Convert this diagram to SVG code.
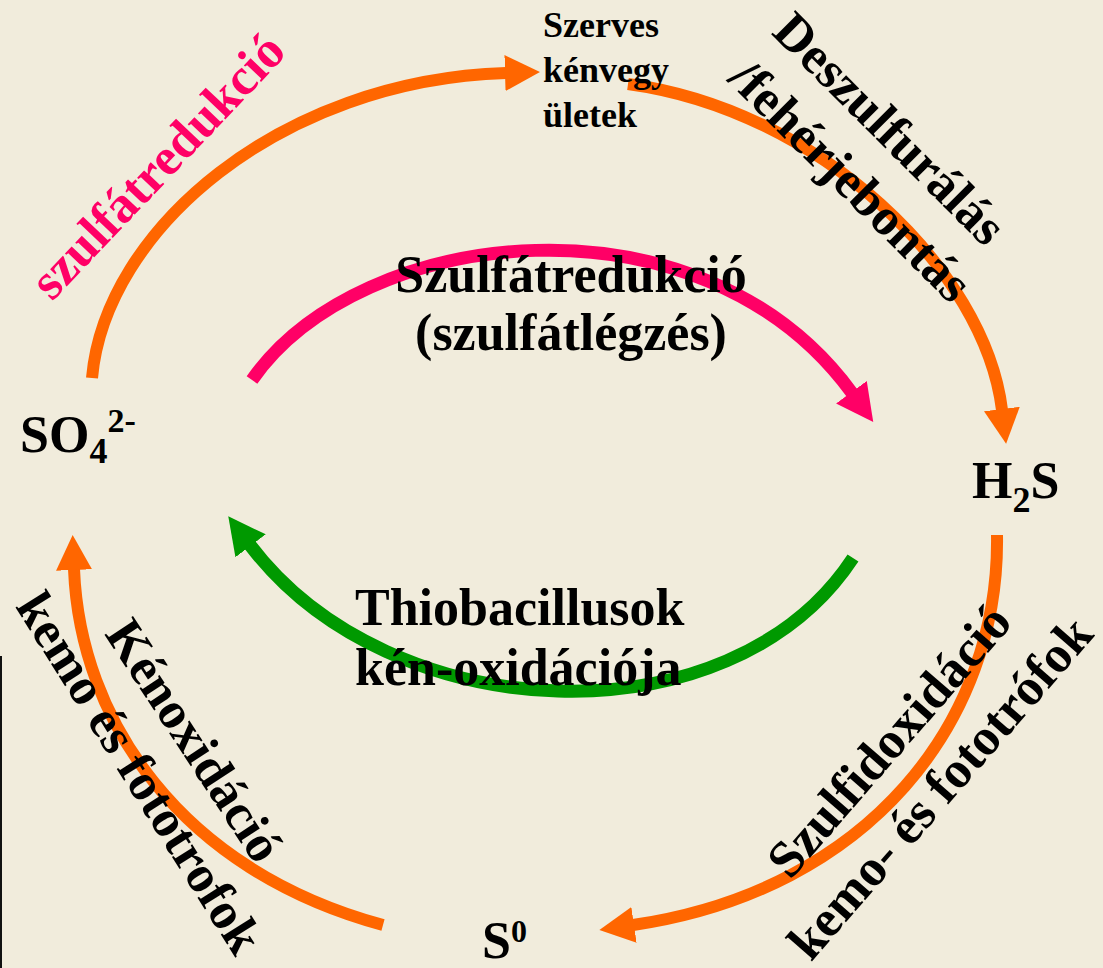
<svg xmlns="http://www.w3.org/2000/svg" width="1103" height="968" viewBox="0 0 1103 968">
<style>
.t{font-family:"Liberation Serif","Times New Roman",serif;font-weight:bold;fill:#000}
.lbl{font-size:52px}
.pink{fill:#FF0066}
.arc{fill:none;stroke-width:12;stroke-linecap:butt}
.or{stroke:#FF6600}
.mg{stroke:#FF0066;stroke-width:13}
.gr{stroke:#009900;stroke-width:13}
</style>
<defs>
<marker id="ahO" markerUnits="userSpaceOnUse" viewBox="0 0 36 36" markerWidth="36" markerHeight="36" refX="1" refY="18" orient="auto"><path d="M0,0 L35,18 L0,36 z" fill="#FF6600"/></marker>
<marker id="ahM" markerUnits="userSpaceOnUse" viewBox="0 0 38 38" markerWidth="38" markerHeight="38" refX="1" refY="19" orient="auto"><path d="M0,0 L37,19 L0,38 z" fill="#FF0066"/></marker>
<marker id="ahG" markerUnits="userSpaceOnUse" viewBox="0 0 38 38" markerWidth="38" markerHeight="38" refX="1" refY="19" orient="auto"><path d="M0,0 L37,19 L0,38 z" fill="#009900"/></marker>
</defs>
<rect x="0" y="0" width="1103" height="968" fill="#F1ECDC"/>
<rect x="0" y="656" width="2" height="312" fill="#111"/>
<g id="connectors">
<path class="arc or" d="M92,378 C105,230 280,80 506,73" marker-end="url(#ahO)"/>
<path class="arc or" d="M628,84 C820,110 985,270 1002,410" marker-end="url(#ahO)"/>
<path class="arc or" d="M997,535 C1000,720 870,890 633,925" marker-end="url(#ahO)"/>
<path class="arc or" d="M383,925 C180,870 80,720 74,569" marker-end="url(#ahO)"/>
<path class="arc mg" d="M252,380 C360,225 700,185 852,393" marker-end="url(#ahM)"/>
<path class="arc gr" d="M853,558 C730,745 390,730 250,545" marker-end="url(#ahG)"/>
</g>
<g id="label-szulfatredukcio-outer">
<text class="t pink" font-size="52" transform="translate(52,302) rotate(-46.5)">szulfátredukció</text>
</g>
<g id="label-deszulfuralas">
<text class="t lbl" text-anchor="end" transform="translate(985,248) rotate(45)">Deszulfurálás</text>
<text class="t lbl" text-anchor="end" transform="translate(951,305) rotate(45)">/fehérjebontás</text>
</g>
<g id="label-szulfatredukcio">
<text class="t lbl" text-anchor="middle" x="571" y="292">Szulfátredukció</text>
<text class="t lbl" text-anchor="middle" x="571" y="350">(szulfátlégzés)</text>
</g>
<g id="label-thiobacillusok">
<text class="t lbl" x="355" y="625">Thiobacillusok</text>
<text class="t lbl" x="355" y="685">kén-oxidációja</text>
</g>
<g id="label-szulfidoxidacio">
<text class="t lbl" text-anchor="middle" transform="translate(902,752) rotate(-49)">Szulfidoxidáció</text>
<text class="t lbl" text-anchor="middle" transform="translate(953,799) rotate(-49)">kemo- és fototrófok</text>
</g>
<g id="label-kenoxidacio">
<text class="t lbl" text-anchor="middle" transform="translate(180,750) rotate(56.8)">Kénoxidáció</text>
<text class="t lbl" text-anchor="middle" transform="translate(125,782) rotate(57.9)">kemo és fototrofok</text>
</g>
<g id="node-szerves">
<text class="t" font-size="36" x="543" y="37">Szerves</text>
<text class="t" font-size="36" x="543" y="82">kénvegy</text>
<text class="t" font-size="36" x="543" y="127">ületek</text>
</g>
<g id="node-so4">
<text class="t" font-size="52" x="20" y="452">SO<tspan font-size="36" dy="11">4</tspan><tspan font-size="34" dy="-31">2-</tspan></text>
</g>
<g id="node-h2s">
<text class="t" font-size="52" x="972" y="498">H<tspan font-size="36" dy="14">2</tspan><tspan dy="-14">S</tspan></text>
</g>
<g id="node-s0">
<text class="t" font-size="52" x="482" y="958">S<tspan font-size="32" dy="-16">0</tspan></text>
</g>
</svg>
